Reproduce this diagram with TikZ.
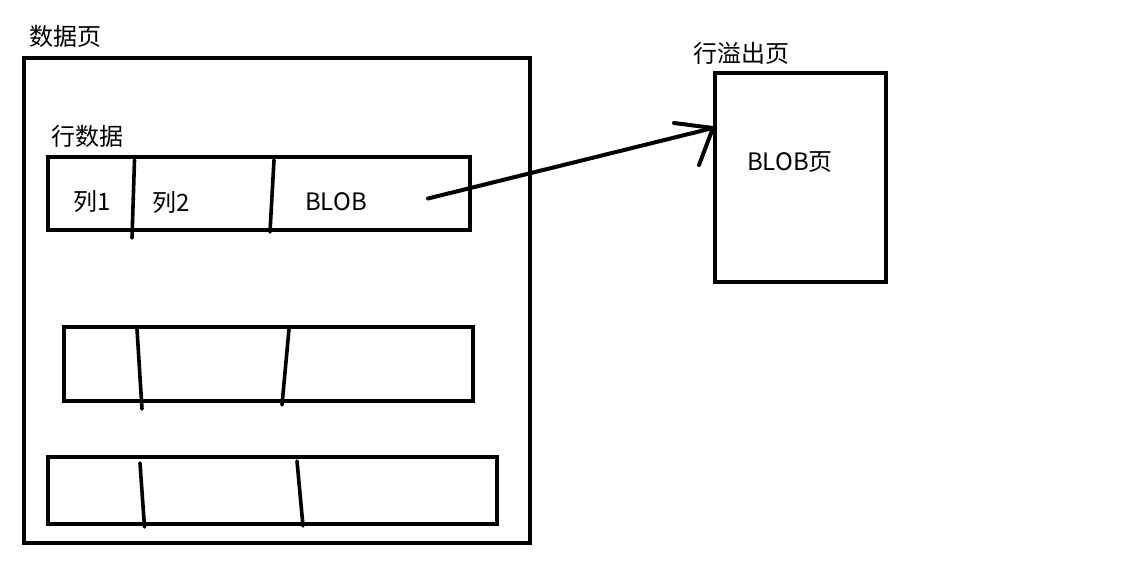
\documentclass[tikz,border=0pt]{standalone}
\usepackage{fontspec}
\setmainfont{Noto Sans CJK SC}
\begin{document}
\begin{tikzpicture}[x=1pt,y=-1pt,
  box/.style={draw=black,line width=4pt,inner sep=0pt,minimum width=#1},
  divline/.style={line width=3.6pt,line cap=round},
  arrowline/.style={line width=4pt,line cap=round},
  lbl/.style={inner sep=0pt,font=\fontsize{24}{28}\selectfont}]
\useasboundingbox[fill=white] (0,0) rectangle (1133,564);
% pages
\node[box=506.5pt,minimum height=484pt] (page) at (276.75,300.5) {};
\node[box=171pt,minimum height=209pt] (ovf) at (800.5,177.5) {};
% rows
\node[box=422.5pt,minimum height=73pt] (row1) at (258.75,193.5) {};
\node[box=409pt,minimum height=74pt] (row2) at (268.5,364) {};
\node[box=449pt,minimum height=67pt] (row3) at (272.5,490.5) {};
% column dividers
\draw[divline] (134.5,160) -- (132,238);
\draw[divline] (274,160) -- (270,232);
\draw[divline] (137,329) -- (142,409);
\draw[divline] (289,329) -- (282,405);
\draw[divline] (140,463) -- (144.5,527);
\draw[divline] (297,461) -- (303,526);
% labels
\node[lbl] (tpage) at (65,36) {数据页};
\node[lbl] (trow) at (87,136) {行数据};
\node[lbl] (tc1) at (92,202) {列1};
\node[lbl] (tc2) at (171,203) {列2};
\node[lbl] (tblob) at (336,202) {BLOB};
\node[lbl] (tovf) at (741,53) {行溢出页};
\node[lbl] (tbpage) at (790,162) {BLOB页};
% pointer arrow
\coordinate (src) at (428,198.5);
\coordinate (tip) at (713,128);
\draw[arrowline] (src) -- (tip);
\draw[arrowline] (tip) -- ++(-39,-5);
\draw[arrowline] (tip) -- ++(-14,37);
\end{tikzpicture}
\end{document}
